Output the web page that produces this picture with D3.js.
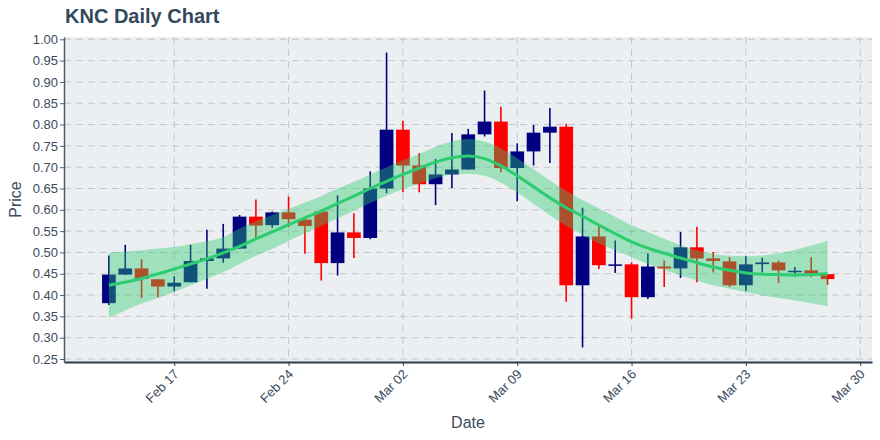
<!DOCTYPE html>
<html>
<head>
    <meta charset="utf-8"/>
    <title>KNC Daily Chart</title>
    <script src="https://d3js.org/d3.v7.min.js"></script>
    <style>
        body { margin: 0; background: #fff; }
        text { font-family: "Liberation Sans", Arial, sans-serif; }
        .grid line { stroke: #c3c7cb; stroke-dasharray: 7,5; stroke-width: 1; }
    </style>
</head>
<body>
<div id="chart"></div>
<script>
    // daily candles (Feb 13 - Mar 28)
    var dates = ["2020-02-13","2020-02-14","2020-02-15","2020-02-16","2020-02-17","2020-02-18","2020-02-19",
                 "2020-02-20","2020-02-21","2020-02-22","2020-02-23","2020-02-24","2020-02-25","2020-02-26",
                 "2020-02-27","2020-02-28","2020-02-29","2020-03-01","2020-03-02","2020-03-03","2020-03-04",
                 "2020-03-05","2020-03-06","2020-03-07","2020-03-08","2020-03-09","2020-03-10","2020-03-11",
                 "2020-03-12","2020-03-13","2020-03-14","2020-03-15","2020-03-16","2020-03-17","2020-03-18",
                 "2020-03-19","2020-03-20","2020-03-21","2020-03-22","2020-03-23","2020-03-24","2020-03-25",
                 "2020-03-26","2020-03-27","2020-03-28"];
    var open  = [0.381,0.448,0.4625,0.437,0.420,0.430,0.480,0.486,0.509,0.584,0.564,0.594,0.577,0.596,
                 0.475,0.547,0.534,0.650,0.788,0.704,0.660,0.683,0.6945,0.777,0.807,0.698,0.737,0.781,
                 0.795,0.423,0.5375,0.470,0.472,0.395,0.467,0.4625,0.512,0.486,0.479,0.423,0.4725,0.4765,
                 0.455,0.458,0.449];
    var high  = [0.493,0.518,0.484,0.437,0.444,0.518,0.553,0.567,0.588,0.624,0.596,0.631,0.577,0.596,
                 0.634,0.592,0.690,0.969,0.809,0.733,0.719,0.780,0.790,0.880,0.842,0.756,0.799,0.839,
                 0.802,0.605,0.563,0.528,0.477,0.498,0.481,0.548,0.560,0.501,0.489,0.491,0.4875,0.481,
                 0.466,0.489,0.449];
    var low   = [0.377,0.447,0.393,0.395,0.409,0.430,0.415,0.476,0.509,0.534,0.558,0.559,0.497,0.434,
                 0.446,0.487,0.531,0.639,0.641,0.641,0.611,0.651,0.6945,0.772,0.688,0.620,0.704,0.710,
                 0.384,0.277,0.461,0.452,0.345,0.391,0.419,0.440,0.430,0.453,0.419,0.410,0.453,0.428,
                 0.443,0.442,0.424];
    var close = [0.448,0.4625,0.4375,0.420,0.429,0.480,0.486,0.509,0.584,0.563,0.594,0.578,0.562,0.475,
                 0.547,0.534,0.650,0.788,0.704,0.660,0.683,0.6945,0.777,0.807,0.698,0.737,0.781,0.795,
                 0.423,0.5375,0.470,0.472,0.395,0.467,0.4625,0.512,0.486,0.480,0.423,0.472,0.4765,0.458,
                 0.457,0.450,0.4375];

    // smoothed trend with its band
    var trend = [0.423,0.430,0.439,0.450,0.461,0.473,0.485,0.499,0.514,0.532,0.548,0.565,0.581,0.597,
                 0.615,0.632,0.650,0.667,0.683,0.698,0.712,0.722,0.726,0.720,0.703,0.680,0.654,0.628,
                 0.605,0.585,0.564,0.544,0.525,0.510,0.498,0.487,0.476,0.466,0.458,0.452,0.449,0.448,
                 0.447,0.448,0.450];
    var upper = [0.500,0.502,0.505,0.509,0.5125,0.519,0.526,0.536,0.556,0.573,0.588,0.602,0.617,0.632,
                 0.650,0.666,0.683,0.700,0.716,0.731,0.748,0.760,0.766,0.760,0.744,0.721,0.695,0.669,
                 0.645,0.623,0.603,0.584,0.564,0.548,0.532,0.517,0.505,0.497,0.492,0.491,0.493,0.498,
                 0.506,0.516,0.528];
    var lower = [0.347,0.364,0.380,0.393,0.407,0.423,0.438,0.454,0.473,0.492,0.508,0.527,0.545,0.562,
                 0.580,0.598,0.616,0.633,0.648,0.662,0.674,0.683,0.684,0.680,0.664,0.641,0.614,0.587,
                 0.562,0.541,0.521,0.505,0.489,0.473,0.459,0.446,0.434,0.423,0.415,0.407,0.399,0.393,
                 0.387,0.381,0.374];

    var yTicks = [0.25,0.30,0.35,0.40,0.45,0.50,0.55,0.60,0.65,0.70,0.75,0.80,0.85,0.90,0.95,1.00];
    var xTicks = ["2020-02-17","2020-02-24","2020-03-02","2020-03-09","2020-03-16","2020-03-23","2020-03-30"];

    var parse = d3.utcParse("%Y-%m-%d");
    var rows = dates.map(function(d, i) {
        return {date: parse(d), open: open[i], high: high[i], low: low[i], close: close[i],
                trend: trend[i], upper: upper[i], lower: lower[i]};
    });

    var width = 880, height = 440;
    var plotL = 64, plotR = 872, plotT = 37, plotB = 362;

    var svg = d3.select("#chart").append("svg")
        .attr("width", width)
        .attr("height", height);

    var x = d3.scaleUtc()
        .domain([new Date(Date.UTC(2020, 1, 10, 6)), new Date(Date.UTC(2020, 2, 30, 17, 20))])
        .range([plotL, plotR]);

    var y = d3.scaleLinear()
        .domain([0.243, 1.0054])
        .range([plotB, plotT]);

    // plot background
    svg.append("rect")
        .attr("x", plotL).attr("y", plotT)
        .attr("width", plotR - plotL).attr("height", plotB - plotT)
        .attr("fill", "#ebeff1");

    // grid
    svg.append("g").attr("class", "grid")
        .selectAll("line").data(yTicks).enter().append("line")
        .attr("x1", plotL).attr("x2", plotR)
        .attr("y1", function(d) { return y(d); })
        .attr("y2", function(d) { return y(d); });

    svg.append("g").attr("class", "grid")
        .selectAll("line").data(xTicks).enter().append("line")
        .attr("x1", function(d) { return x(parse(d)); })
        .attr("x2", function(d) { return x(parse(d)); })
        .attr("y1", plotT).attr("y2", plotB);

    // candles
    var halfDay = 0.42 * 24 * 3600 * 1000;
    var candles = svg.append("g").selectAll("g").data(rows).enter().append("g");

    function col(d) { return d.close >= d.open ? "#000080" : "#ff0000"; }

    candles.append("line")
        .attr("x1", function(d) { return x(d.date); })
        .attr("x2", function(d) { return x(d.date); })
        .attr("y1", function(d) { return y(d.high); })
        .attr("y2", function(d) { return y(d.low); })
        .attr("stroke", col)
        .attr("stroke-width", 1.6);

    candles.append("rect")
        .attr("x", function(d) { return x(new Date(d.date.getTime() - halfDay)); })
        .attr("width", function(d) { return x(new Date(d.date.getTime() + halfDay)) - x(new Date(d.date.getTime() - halfDay)); })
        .attr("y", function(d) { return y(Math.max(d.open, d.close)); })
        .attr("height", function(d) { return Math.max(1.5, Math.abs(y(d.open) - y(d.close))); })
        .attr("fill", col);

    // band and trend line
    var band = d3.area()
        .x(function(d) { return x(d.date); })
        .y0(function(d) { return y(d.lower); })
        .y1(function(d) { return y(d.upper); })
        .curve(d3.curveMonotoneX);

    svg.append("path")
        .datum(rows)
        .attr("d", band)
        .attr("fill", "rgba(46,204,113,0.4)");

    var line = d3.line()
        .x(function(d) { return x(d.date); })
        .y(function(d) { return y(d.trend); })
        .curve(d3.curveMonotoneX);

    svg.append("path")
        .datum(rows)
        .attr("d", line)
        .attr("fill", "none")
        .attr("stroke", "rgb(46,204,113)")
        .attr("stroke-width", 3);

    // axes
    var yAxis = svg.append("g")
        .attr("transform", "translate(" + plotL + ",0)")
        .call(d3.axisLeft(y).tickValues(yTicks).tickFormat(d3.format(".2f")).tickSize(4).tickSizeOuter(0));
    yAxis.select(".domain").attr("stroke", "#4d5d70").attr("stroke-width", 1.5);
    yAxis.selectAll(".tick line").attr("stroke", "#4d5d70");
    yAxis.selectAll("text")
        .attr("x", -6)
        .attr("font-size", 13)
        .attr("font-family", "Liberation Sans, Arial, sans-serif")
        .attr("fill", "#3b4b5e");

    var xAxis = svg.append("g")
        .attr("transform", "translate(0," + plotB + ")")
        .call(d3.axisBottom(x).tickValues(xTicks.map(parse)).tickFormat(d3.utcFormat("%b %d")).tickSize(4).tickSizeOuter(0));
    xAxis.select(".domain").attr("stroke", "#2c3e50").attr("stroke-width", 2);
    xAxis.selectAll(".tick line").attr("stroke", "#2c3e50");
    xAxis.selectAll("text")
        .attr("text-anchor", "end")
        .attr("dy", null)
        .attr("y", 0)
        .attr("font-size", 13)
        .attr("font-family", "Liberation Sans, Arial, sans-serif")
        .attr("fill", "#3b4b5e")
        .attr("transform", "translate(5,13) rotate(-45)");

    // titles
    svg.append("text")
        .attr("x", 65).attr("y", 23)
        .attr("font-size", 20)
        .attr("font-weight", "bold")
        .attr("fill", "#34495e")
        .text("KNC Daily Chart");

    svg.append("text")
        .attr("x", (plotL + plotR) / 2).attr("y", 428)
        .attr("text-anchor", "middle")
        .attr("font-size", 16)
        .attr("fill", "#3b4b5e")
        .text("Date");

    svg.append("text")
        .attr("transform", "translate(21," + ((plotT + plotB) / 2) + ") rotate(-90)")
        .attr("text-anchor", "middle")
        .attr("font-size", 16)
        .attr("fill", "#3b4b5e")
        .text("Price");
</script>
</body>
</html>
